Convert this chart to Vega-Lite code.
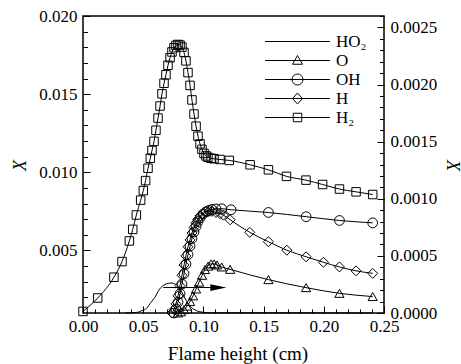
{
  "$schema": "https://vega.github.io/schema/vega-lite/v6.json",
  "width": 301,
  "height": 297,
  "autosize": {"type": "none"},
  "padding": {"left": 83, "top": 16, "right": 77, "bottom": 51},
  "background": "white",
  "config": {
    "font": "Liberation Serif",
    "view": {"stroke": "black", "strokeWidth": 1.5},
    "axis": {"grid": false, "domain": false, "labelFont": "Liberation Serif", "labelFontSize": 17, "labelColor": "black", "tickColor": "black", "tickWidth": 1, "titleFont": "Liberation Serif", "titleColor": "black", "titleFontWeight": "normal", "labelFlush": false, "labelOverlap": false},
    "legend": {"labelFont": "Liberation Serif", "labelColor": "black"}
  },
  "datasets": {
    "h2": [
      {"species": "H₂", "x": 0, "y": 0.0011}, {"species": "H₂", "x": 0.0122, "y": 0.00196}, {"species": "H₂", "x": 0.0257, "y": 0.00329}, {"species": "H₂", "x": 0.0324, "y": 0.00429}, {"species": "H₂", "x": 0.0385, "y": 0.00561}, {"species": "H₂", "x": 0.0413, "y": 0.00635}, {"species": "H₂", "x": 0.0443, "y": 0.00727}, {"species": "H₂", "x": 0.0479, "y": 0.00822}, {"species": "H₂", "x": 0.0501, "y": 0.00883}, {"species": "H₂", "x": 0.052, "y": 0.00947}, {"species": "H₂", "x": 0.054, "y": 0.01026}, {"species": "H₂", "x": 0.0559, "y": 0.0109}, {"species": "H₂", "x": 0.0573, "y": 0.0114}, {"species": "H₂", "x": 0.059, "y": 0.01198}, {"species": "H₂", "x": 0.0606, "y": 0.01269}, {"species": "H₂", "x": 0.0623, "y": 0.01347}, {"species": "H₂", "x": 0.064, "y": 0.01424}, {"species": "H₂", "x": 0.0656, "y": 0.01502}, {"species": "H₂", "x": 0.0673, "y": 0.0157}, {"species": "H₂", "x": 0.0689, "y": 0.01624}, {"species": "H₂", "x": 0.0706, "y": 0.01685}, {"species": "H₂", "x": 0.0723, "y": 0.01733}, {"species": "H₂", "x": 0.0739, "y": 0.0177}, {"species": "H₂", "x": 0.0756, "y": 0.01797}, {"species": "H₂", "x": 0.0772, "y": 0.01812}, {"species": "H₂", "x": 0.0789, "y": 0.01818}, {"species": "H₂", "x": 0.0806, "y": 0.01814}, {"species": "H₂", "x": 0.0822, "y": 0.01801}, {"species": "H₂", "x": 0.0839, "y": 0.01767}, {"species": "H₂", "x": 0.0855, "y": 0.01713}, {"species": "H₂", "x": 0.0872, "y": 0.01638}, {"species": "H₂", "x": 0.0889, "y": 0.01556}, {"species": "H₂", "x": 0.0905, "y": 0.01463}, {"species": "H₂", "x": 0.0922, "y": 0.01373}, {"species": "H₂", "x": 0.0939, "y": 0.01295}, {"species": "H₂", "x": 0.0955, "y": 0.01231}, {"species": "H₂", "x": 0.0972, "y": 0.01182}, {"species": "H₂", "x": 0.0988, "y": 0.01147}, {"species": "H₂", "x": 0.1005, "y": 0.01121}, {"species": "H₂", "x": 0.1022, "y": 0.01105}, {"species": "H₂", "x": 0.1038, "y": 0.01096}, {"species": "H₂", "x": 0.1063, "y": 0.0109}, {"species": "H₂", "x": 0.1088, "y": 0.01087}, {"species": "H₂", "x": 0.1138, "y": 0.01082}, {"species": "H₂", "x": 0.1215, "y": 0.01076}, {"species": "H₂", "x": 0.1388, "y": 0.01048}, {"species": "H₂", "x": 0.154, "y": 0.01016}, {"species": "H₂", "x": 0.169, "y": 0.00974}, {"species": "H₂", "x": 0.1852, "y": 0.0095}, {"species": "H₂", "x": 0.199, "y": 0.00922}, {"species": "H₂", "x": 0.213, "y": 0.00893}, {"species": "H₂", "x": 0.2268, "y": 0.00875}, {"species": "H₂", "x": 0.2406, "y": 0.00858}
    ],
    "sp": [
      {"species": "HO₂", "x": 0.035, "y": 0}, {"species": "HO₂", "x": 0.0446, "y": 0.000005}, {"species": "HO₂", "x": 0.049, "y": 0.00002}, {"species": "HO₂", "x": 0.0529, "y": 0.000042}, {"species": "HO₂", "x": 0.0565, "y": 0.000094}, {"species": "HO₂", "x": 0.0598, "y": 0.000138}, {"species": "HO₂", "x": 0.0626, "y": 0.000194}, {"species": "HO₂", "x": 0.0648, "y": 0.000223}, {"species": "HO₂", "x": 0.0681, "y": 0.00025}, {"species": "HO₂", "x": 0.071, "y": 0.00026}, {"species": "HO₂", "x": 0.0737, "y": 0.000263}, {"species": "HO₂", "x": 0.0764, "y": 0.000253}, {"species": "HO₂", "x": 0.0792, "y": 0.000236}, {"species": "HO₂", "x": 0.0823, "y": 0.000178}, {"species": "HO₂", "x": 0.0856, "y": 0.00011}, {"species": "HO₂", "x": 0.0889, "y": 0.00006}, {"species": "HO₂", "x": 0.0931, "y": 0.000027}, {"species": "HO₂", "x": 0.0972, "y": 0.00001}, {"species": "HO₂", "x": 0.106, "y": 0.000002}, {"species": "HO₂", "x": 0.24, "y": 0},
      {"species": "O", "x": 0.0789, "y": 0}, {"species": "O", "x": 0.0814, "y": 0.00001}, {"species": "O", "x": 0.0839, "y": 0.00003}, {"species": "O", "x": 0.0864, "y": 0.00006}, {"species": "O", "x": 0.0889, "y": 0.0001}, {"species": "O", "x": 0.0914, "y": 0.00015}, {"species": "O", "x": 0.0939, "y": 0.00021}, {"species": "O", "x": 0.0964, "y": 0.00027}, {"species": "O", "x": 0.0989, "y": 0.00033}, {"species": "O", "x": 0.1013, "y": 0.00038}, {"species": "O", "x": 0.1039, "y": 0.00041}, {"species": "O", "x": 0.1063, "y": 0.00043}, {"species": "O", "x": 0.1089, "y": 0.00043}, {"species": "O", "x": 0.1113, "y": 0.00042}, {"species": "O", "x": 0.1152, "y": 0.000403}, {"species": "O", "x": 0.1222, "y": 0.000382}, {"species": "O", "x": 0.154, "y": 0.000292}, {"species": "O", "x": 0.1853, "y": 0.000222}, {"species": "O", "x": 0.213, "y": 0.000172}, {"species": "O", "x": 0.2406, "y": 0.000144},
      {"species": "OH", "x": 0.0756, "y": 0}, {"species": "OH", "x": 0.0772, "y": 0.0000358}, {"species": "OH", "x": 0.0789, "y": 0.0000942}, {"species": "OH", "x": 0.0806, "y": 0.000169}, {"species": "OH", "x": 0.0822, "y": 0.000253}, {"species": "OH", "x": 0.0839, "y": 0.000344}, {"species": "OH", "x": 0.0855, "y": 0.000428}, {"species": "OH", "x": 0.0872, "y": 0.000511}, {"species": "OH", "x": 0.0889, "y": 0.000585}, {"species": "OH", "x": 0.0905, "y": 0.000651}, {"species": "OH", "x": 0.0922, "y": 0.000709}, {"species": "OH", "x": 0.0939, "y": 0.000758}, {"species": "OH", "x": 0.0955, "y": 0.0008}, {"species": "OH", "x": 0.0972, "y": 0.000833}, {"species": "OH", "x": 0.0997, "y": 0.000866}, {"species": "OH", "x": 0.1022, "y": 0.000886}, {"species": "OH", "x": 0.1047, "y": 0.000899}, {"species": "OH", "x": 0.1071, "y": 0.000907}, {"species": "OH", "x": 0.1105, "y": 0.000911}, {"species": "OH", "x": 0.1152, "y": 0.000913}, {"species": "OH", "x": 0.123, "y": 0.000904}, {"species": "OH", "x": 0.154, "y": 0.00088}, {"species": "OH", "x": 0.1853, "y": 0.000843}, {"species": "OH", "x": 0.213, "y": 0.00081}, {"species": "OH", "x": 0.2406, "y": 0.000789},
      {"species": "H", "x": 0.0739, "y": 0}, {"species": "H", "x": 0.0756, "y": 0.00003}, {"species": "H", "x": 0.0772, "y": 0.00008}, {"species": "H", "x": 0.0789, "y": 0.00015}, {"species": "H", "x": 0.0806, "y": 0.00024}, {"species": "H", "x": 0.0822, "y": 0.00033}, {"species": "H", "x": 0.0839, "y": 0.00042}, {"species": "H", "x": 0.0855, "y": 0.0005}, {"species": "H", "x": 0.0872, "y": 0.00058}, {"species": "H", "x": 0.0889, "y": 0.00064}, {"species": "H", "x": 0.0905, "y": 0.0007}, {"species": "H", "x": 0.0922, "y": 0.00075}, {"species": "H", "x": 0.0939, "y": 0.00079}, {"species": "H", "x": 0.0955, "y": 0.00082}, {"species": "H", "x": 0.0972, "y": 0.00085}, {"species": "H", "x": 0.0997, "y": 0.00087}, {"species": "H", "x": 0.1022, "y": 0.00089}, {"species": "H", "x": 0.1047, "y": 0.00089}, {"species": "H", "x": 0.1071, "y": 0.00089}, {"species": "H", "x": 0.1105, "y": 0.00088}, {"species": "H", "x": 0.1138, "y": 0.00087}, {"species": "H", "x": 0.1166, "y": 0.000857}, {"species": "H", "x": 0.1222, "y": 0.000816}, {"species": "H", "x": 0.1385, "y": 0.000706}, {"species": "H", "x": 0.154, "y": 0.000624}, {"species": "H", "x": 0.1693, "y": 0.00055}, {"species": "H", "x": 0.1853, "y": 0.000492}, {"species": "H", "x": 0.1997, "y": 0.000444}, {"species": "H", "x": 0.213, "y": 0.000403}, {"species": "H", "x": 0.2268, "y": 0.000369}, {"species": "H", "x": 0.2406, "y": 0.000347}
    ],
    "arrow": [{"x": 0.0667, "x2": 0.1124, "y": 0.000223}],
    "minor": [{"x": 0.1, "y": 0.01, "yr": 0.001}],
    "none": []
  },
  "layer": [
    {
      "data": {"name": "h2"},
      "encoding": {
        "x": {"field": "x", "type": "quantitative", "scale": {"domain": [0, 0.25], "nice": false, "zero": false},
          "axis": {"orient": "bottom", "values": [0, 0.05, 0.1, 0.15, 0.2, 0.25], "format": ".2f", "tickSize": -7, "labelPadding": 12, "labelDx": 6, "labelFont": "Liberation Serif", "titleFont": "Liberation Serif", "title": "Flame height (cm)", "titleFontSize": 19, "titleX": 154.5, "titleY": 46, "titleBaseline": "alphabetic", "titleAlign": "center"}},
        "y": {"field": "y", "type": "quantitative", "scale": {"domain": [0.001, 0.02], "nice": false, "zero": false},
          "axis": {"orient": "left", "values": [0.005, 0.01, 0.015, 0.02], "format": ".3f", "tickSize": -7, "labelPadding": 13, "labelFont": "Liberation Serif", "titleFont": "Liberation Serif", "title": "X", "titleFontStyle": "italic", "titleFontSize": 18, "titleX": -63, "titleY": 149, "titleBaseline": "middle", "titleAlign": "center"}}
      },
      "layer": [
        {"mark": {"type": "line", "color": "black", "strokeWidth": 1, "interpolate": "monotone"}},
        {"mark": {"type": "point", "shape": "square", "filled": false, "color": "black", "strokeWidth": 1, "size": 72, "opacity": 1}}
      ]
    },
    {
      "data": {"name": "sp"},
      "encoding": {
        "x": {"field": "x", "type": "quantitative", "scale": {"domain": [0, 0.25], "nice": false, "zero": false}, "axis": null},
        "y": {"field": "y", "type": "quantitative", "scale": {"domain": [0, 0.0026], "nice": false, "zero": false},
          "axis": {"orient": "right", "values": [0, 0.0005, 0.001, 0.0015, 0.002, 0.0025], "format": ".4f", "tickSize": -7, "labelPadding": 13, "labelFont": "Liberation Serif", "titleFont": "Liberation Serif", "title": "X", "titleFontStyle": "italic", "titleFontSize": 18, "titleX": 67, "titleY": 149, "titleBaseline": "middle", "titleAlign": "center", "titleAngle": 90}}
      },
      "layer": [
        {"mark": {"type": "line", "color": "black", "strokeWidth": 1, "interpolate": "monotone"}, "encoding": {"detail": {"field": "species", "type": "nominal"}}},
        {"transform": [{"filter": "datum.species === 'O'"}], "mark": {"type": "point", "shape": "triangle-up", "filled": false, "color": "black", "strokeWidth": 1, "size": 85, "opacity": 1}},
        {"transform": [{"filter": "datum.species === 'OH'"}], "mark": {"type": "point", "shape": "circle", "filled": false, "color": "black", "strokeWidth": 1, "size": 95, "opacity": 1}},
        {"transform": [{"filter": "datum.species === 'H'"}], "mark": {"type": "point", "shape": "diamond", "filled": false, "color": "black", "strokeWidth": 1, "size": 100, "opacity": 1}},
        {"data": {"name": "arrow"}, "mark": {"type": "rule", "color": "black", "strokeWidth": 1}, "encoding": {"x2": {"field": "x2"}}},
        {"data": {"name": "arrow"}, "mark": {"type": "point", "shape": "M-1,-0.42L1,0L-1,0.42Z", "filled": true, "color": "black", "size": 256, "opacity": 1},
          "encoding": {"x": {"field": "x2", "type": "quantitative", "scale": {"domain": [0, 0.25], "nice": false, "zero": false}, "axis": null}}},
        {"data": {"name": "none"}, "mark": {"type": "point", "filled": false, "color": "black", "strokeWidth": 1, "size": 100, "opacity": 1},
          "encoding": {"shape": {"field": "species", "type": "nominal",
            "scale": {"domain": ["HO₂", "O", "OH", "H", "H₂"], "range": ["M-6.5,0H6.5", "M-6.5,0H6.5M0,-1L1,0.75L-1,0.75Z", "M-6.5,0H6.5M1.1,0A1.1,1.1,0,1,1,-1.1,0A1.1,1.1,0,1,1,1.1,0Z", "M-6.5,0H6.5M0,-1.1L1,0L0,1.1L-1,0Z", "M-6.5,0H6.5M-0.85,-0.85H0.85V0.85H-0.85Z"]},
            "legend": {"title": null, "orient": "none", "legendX": 206, "legendY": 17, "symbolSize": 100, "symbolStrokeWidth": 1, "symbolStrokeColor": "black", "symbolFillColor": "transparent", "symbolOpacity": 1, "labelFontSize": 17, "labelFont": "Liberation Serif", "labelColor": "black", "labelOffset": 30, "rowPadding": 1, "padding": 0}}}}
      ]
    },
    {
      "data": {"name": "minor"},
      "mark": {"type": "point", "opacity": 0},
      "encoding": {
        "x": {"field": "x", "type": "quantitative", "scale": {"domain": [0, 0.25], "nice": false, "zero": false},
          "axis": {"orient": "bottom", "values": [0.01, 0.02, 0.03, 0.04, 0.06, 0.07, 0.08, 0.09, 0.11, 0.12, 0.13, 0.14, 0.16, 0.17, 0.18, 0.19, 0.21, 0.22, 0.23, 0.24], "labels": false, "tickSize": -4, "title": null}},
        "y": {"field": "y", "type": "quantitative", "scale": {"domain": [0.001, 0.02], "nice": false, "zero": false},
          "axis": {"orient": "left", "values": [0.002, 0.003, 0.004, 0.006, 0.007, 0.008, 0.009, 0.011, 0.012, 0.013, 0.014, 0.016, 0.017, 0.018, 0.019], "labels": false, "tickSize": -4.5, "title": null}}
      }
    },
    {
      "data": {"name": "minor"},
      "mark": {"type": "point", "opacity": 0},
      "encoding": {
        "x": {"field": "x", "type": "quantitative", "scale": {"domain": [0, 0.25], "nice": false, "zero": false}, "axis": null},
        "y": {"field": "yr", "type": "quantitative", "scale": {"domain": [0, 0.0026], "nice": false, "zero": false},
          "axis": {"orient": "right", "values": [0.0001, 0.0002, 0.0003, 0.0004, 0.0006, 0.0007, 0.0008, 0.0009, 0.0011, 0.0012, 0.0013, 0.0014, 0.0016, 0.0017, 0.0018, 0.0019, 0.0021, 0.0022, 0.0023, 0.0024, 0.0026], "labels": false, "tickSize": -4.5, "title": null}}
      }
    }
  ],
  "resolve": {"scale": {"x": "independent", "y": "independent"}}
}
